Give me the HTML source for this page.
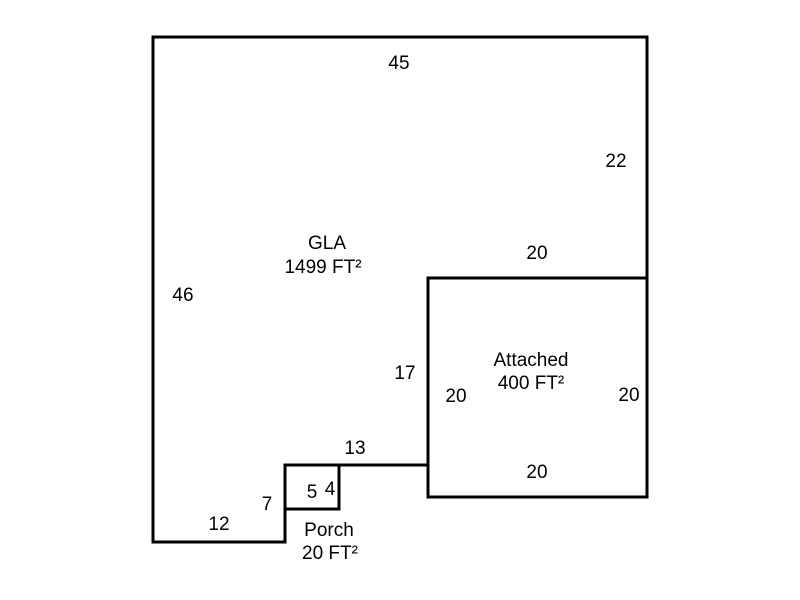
<!DOCTYPE html>
<html><head><style>
html,body{margin:0;padding:0;background:#fff;width:800px;height:600px;overflow:hidden}
svg text{font-family:"Liberation Sans",Arial,sans-serif;font-size:19px;fill:#000}
</style></head><body>
<svg width="800" height="600" viewBox="0 0 800 600" xmlns="http://www.w3.org/2000/svg">
<g fill="none" stroke="#000" stroke-width="3" stroke-linecap="square">
<polyline points="647,278 647,37 153,37 153,542 285,542 285,465 428,465 428,278 647,278"/>
<rect x="428" y="278" width="219" height="219"/>
<rect x="285" y="465" width="54" height="44"/>
</g>
<g text-anchor="middle">
<text x="399" y="69">45</text>
<text x="616" y="167">22</text>
<text x="537" y="259">20</text>
<text x="183" y="301">46</text>
<text x="327" y="249">GLA</text>
<text x="323" y="273">1499 FT²</text>
<text x="405" y="379">17</text>
<text x="531" y="366">Attached</text>
<text x="531" y="389">400 FT²</text>
<text x="456" y="402">20</text>
<text x="629" y="401">20</text>
<text x="537" y="478">20</text>
<text x="355" y="454">13</text>
<text x="312" y="498">5</text>
<text x="330" y="495">4</text>
<text x="267" y="510">7</text>
<text x="219" y="530">12</text>
<text x="329" y="536">Porch</text>
<text x="330" y="559">20 FT²</text>
</g>
</svg>
</body></html>
